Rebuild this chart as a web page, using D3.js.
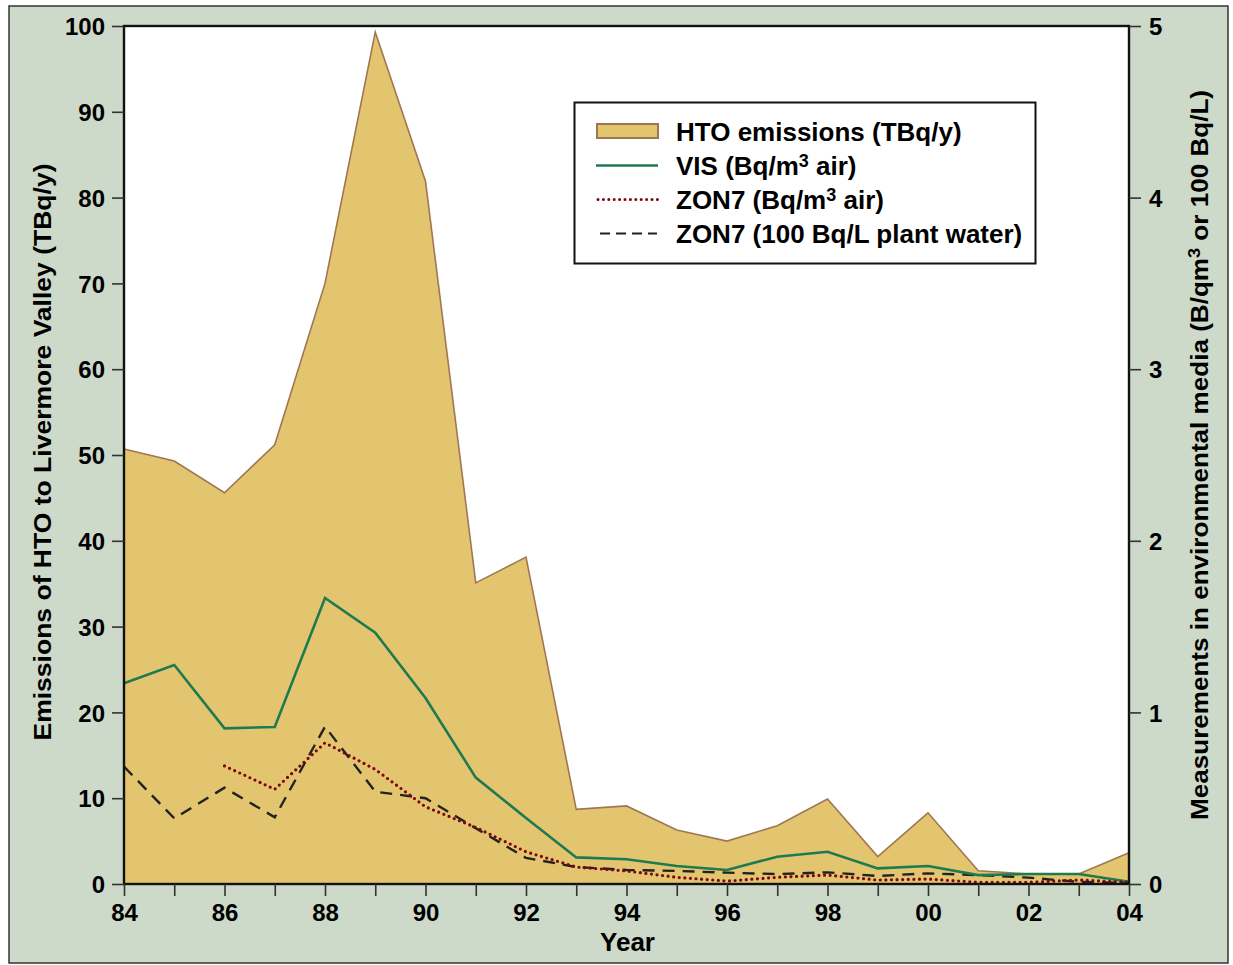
<!DOCTYPE html>
<html>
<head>
<meta charset="utf-8">
<script src="https://cdn.jsdelivr.net/npm/d3@7"></script>
<style>
  html, body { margin: 0; padding: 0; background: #ffffff; }
  svg { display: block; }
  text { font-family: "Liberation Sans", Arial, Helvetica, sans-serif; font-weight: bold; fill: #000; }
</style>
</head>
<body>
<svg id="chart" width="1233" height="965"></svg>
<script>
// ---------------- DATA ----------------
const years = [1984, 1985, 1986, 1987, 1988, 1989, 1990, 1991, 1992, 1993, 1994,
               1995, 1996, 1997, 1998, 1999, 2000, 2001, 2002, 2003, 2004];
const xTickLabels = ["84", "86", "88", "90", "92", "94", "96", "98", "00", "02", "04"];
const xTickLabelYears = [1984, 1986, 1988, 1990, 1992, 1994, 1996, 1998, 2000, 2002, 2004];
const leftTicks = [0, 10, 20, 30, 40, 50, 60, 70, 80, 90, 100];
const rightTicks = [0, 1, 2, 3, 4, 5];

// HTO emissions (TBq/y), left axis
const htoEmissions = [50.7, 49.3, 45.6, 51.2, 70.0, 99.3, 81.9, 35.1, 38.1, 8.7, 9.1,
                      6.3, 5.0, 6.8, 9.9, 3.2, 8.3, 1.55, 1.17, 1.17, 3.65];
// VIS (Bq/m3 air), right axis
const visAir = [1.17, 1.276, 0.907, 0.915, 1.667, 1.464, 1.084, 0.62, 0.385, 0.155, 0.144,
                0.105, 0.082, 0.159, 0.188, 0.091, 0.105, 0.052, 0.058, 0.058, 0.013];
// ZON7 (Bq/m3 air), right axis (starts 1986)
const zon7Air = [null, null, 0.688, 0.552, 0.823, 0.668, 0.45, 0.33, 0.188, 0.099, 0.076,
                 0.039, 0.017, 0.039, 0.052, 0.023, 0.029, 0.01, 0.01, 0.023, 0.01];
// ZON7 (100 Bq/L plant water), right axis
const zon7Water = [0.684, 0.383, 0.561, 0.389, 0.917, 0.538, 0.5, 0.325, 0.152, 0.099, 0.082,
                   0.076, 0.066, 0.058, 0.068, 0.047, 0.062, 0.052, 0.037, 0.012, 0.006];

const legendItems = [
  { label: "HTO emissions (TBq/y)", type: "area" },
  { label: ["VIS (Bq/m", "3", " air)"], type: "vis" },
  { label: ["ZON7 (Bq/m", "3", " air)"], type: "zonAir" },
  { label: "ZON7 (100 Bq/L plant water)", type: "zonWater" }
];

// ---------------- LAYOUT ----------------
const svg = d3.select("#chart");
const plot = { left: 124, right: 1129, top: 26, bottom: 884 };

const COLORS = {
  bg: "#cdd9c9",
  fill: "#e4c56f",
  fillStroke: "#9e7752",
  vis: "#1f7a50",
  zonAir: "#7a0612",
  zonWater: "#222222"
};

// outer background frame
svg.append("rect")
  .attr("x", 9).attr("y", 6).attr("width", 1219).attr("height", 957)
  .attr("fill", COLORS.bg).attr("stroke", "#333").attr("stroke-width", 1.5);

// plot area
svg.append("rect")
  .attr("x", plot.left).attr("y", plot.top)
  .attr("width", plot.right - plot.left).attr("height", plot.bottom - plot.top)
  .attr("fill", "#fff");

const x = d3.scaleLinear().domain([1984, 2004]).range([plot.left, plot.right]);
const yL = d3.scaleLinear().domain([0, 100]).range([plot.bottom, plot.top]);
const yR = d3.scaleLinear().domain([0, 5]).range([plot.bottom, plot.top]);

const htoData = years.map((yr, i) => ({ yr, v: htoEmissions[i] }));

// area
svg.append("path")
  .datum(htoData)
  .attr("fill", COLORS.fill)
  .attr("d", d3.area().x(d => x(d.yr)).y0(yL(0)).y1(d => yL(d.v)));
svg.append("path")
  .datum(htoData)
  .attr("fill", "none")
  .attr("stroke", COLORS.fillStroke)
  .attr("stroke-width", 1.6)
  .attr("d", d3.line().x(d => x(d.yr)).y(d => yL(d.v)));

const lineR = d3.line()
  .defined(d => d.v !== null)
  .x(d => x(d.yr)).y(d => yR(d.v));

function series(arr) { return years.map((yr, i) => ({ yr, v: arr[i] })); }

svg.append("path").datum(series(zon7Water))
  .attr("fill", "none").attr("stroke", COLORS.zonWater)
  .attr("stroke-width", 2.4).attr("stroke-dasharray", "12 8")
  .attr("d", lineR);

svg.append("path").datum(series(visAir))
  .attr("fill", "none").attr("stroke", COLORS.vis)
  .attr("stroke-width", 2.6)
  .attr("d", lineR);

svg.append("path").datum(series(zon7Air))
  .attr("fill", "none").attr("stroke", COLORS.zonAir)
  .attr("stroke-width", 3.2).attr("stroke-linecap", "round")
  .attr("stroke-dasharray", "0 5.6")
  .attr("d", lineR);

// plot frame
svg.append("rect")
  .attr("x", plot.left).attr("y", plot.top)
  .attr("width", plot.right - plot.left).attr("height", plot.bottom - plot.top)
  .attr("fill", "none").attr("stroke", "#111").attr("stroke-width", 2.4);

// ---------------- AXES ----------------
const tickStroke = "#333";
const fontSize = 24;

const gL = svg.append("g").attr("transform", `translate(${plot.left},0)`)
  .call(d3.axisLeft(yL).tickValues(leftTicks).tickSize(12).tickPadding(7).tickFormat(d3.format("d")));
const gB = svg.append("g").attr("transform", `translate(0,${plot.bottom})`)
  .call(d3.axisBottom(x).tickValues(years).tickSize(12).tickPadding(6)
    .tickFormat(d => {
      const k = xTickLabelYears.indexOf(d);
      return k >= 0 ? xTickLabels[k] : "";
    }));
const gR = svg.append("g").attr("transform", `translate(${plot.right},0)`)
  .call(d3.axisRight(yR).tickValues(rightTicks).tickSize(12).tickPadding(8).tickFormat(d3.format("d")));

[gL, gB, gR].forEach(g => {
  g.select(".domain").remove();
  g.selectAll(".tick line").attr("stroke", tickStroke).attr("stroke-width", 1.6);
  g.selectAll(".tick text")
    .attr("font-size", fontSize)
    .attr("font-family", '"Liberation Sans", Arial, sans-serif')
    .attr("font-weight", "bold")
    .attr("fill", "#000");
});
gL.selectAll(".tick text").attr("dy", "0.36em");
gR.selectAll(".tick text").attr("dy", "0.36em");
gB.selectAll(".tick text").attr("dy", "0.78em");

// axis titles
svg.append("text")
  .attr("transform", `translate(51,452) rotate(-90)`)
  .attr("text-anchor", "middle")
  .attr("font-size", 24)
  .attr("textLength", 577)
  .attr("lengthAdjust", "spacingAndGlyphs")
  .text("Emissions of HTO to Livermore Valley (TBq/y)");

const rt = svg.append("text")
  .attr("transform", `translate(1208,455) rotate(-90)`)
  .attr("text-anchor", "middle")
  .attr("font-size", 23)
  .attr("textLength", 730)
  .attr("lengthAdjust", "spacingAndGlyphs");
rt.append("tspan").text("Measurements in environmental media (B/qm");
rt.append("tspan").attr("font-size", 16).attr("dy", -8).text("3");
rt.append("tspan").attr("dy", 8).text(" or 100 Bq/L)");

svg.append("text")
  .attr("x", (plot.left + plot.right) / 2 + 1).attr("y", 951)
  .attr("text-anchor", "middle")
  .attr("font-size", 26)
  .text("Year");

// ---------------- LEGEND ----------------
const lg = svg.append("g");
lg.append("rect")
  .attr("x", 574.5).attr("y", 102.5).attr("width", 461).attr("height", 161)
  .attr("fill", "#fff").attr("stroke", "#111").attr("stroke-width", 2);

const rowY = [131, 165.5, 199.5, 233.5];
legendItems.forEach((it, i) => {
  const cy = rowY[i];
  if (it.type === "area") {
    lg.append("rect").attr("x", 597).attr("y", cy - 7).attr("width", 61).attr("height", 14)
      .attr("fill", COLORS.fill).attr("stroke", COLORS.fillStroke).attr("stroke-width", 2);
  } else if (it.type === "vis") {
    lg.append("line").attr("x1", 596).attr("x2", 658).attr("y1", cy).attr("y2", cy)
      .attr("stroke", COLORS.vis).attr("stroke-width", 2.6);
  } else if (it.type === "zonAir") {
    lg.append("line").attr("x1", 598).attr("x2", 658).attr("y1", cy).attr("y2", cy)
      .attr("stroke", COLORS.zonAir).attr("stroke-width", 3).attr("stroke-linecap", "round")
      .attr("stroke-dasharray", "0 5.4");
  } else {
    lg.append("line").attr("x1", 600).attr("x2", 657).attr("y1", cy).attr("y2", cy)
      .attr("stroke", COLORS.zonWater).attr("stroke-width", 2.2).attr("stroke-dasharray", "10 6");
  }
  const t = lg.append("text").attr("x", 676).attr("y", cy + 9.5).attr("font-size", 26);
  if (Array.isArray(it.label)) {
    t.append("tspan").text(it.label[0]);
    t.append("tspan").attr("font-size", 18).attr("dy", -8).text(it.label[1]);
    t.append("tspan").attr("dy", 8).text(it.label[2]);
  } else {
    t.text(it.label);
  }
});
</script>
</body>
</html>
